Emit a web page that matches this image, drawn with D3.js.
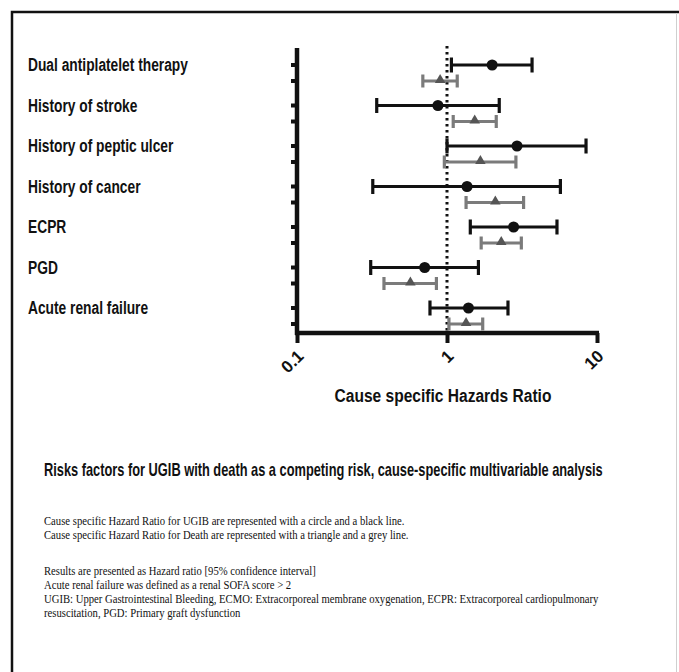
<!DOCTYPE html>
<html>
<head>
<meta charset="utf-8">
<script src="https://cdn.jsdelivr.net/npm/d3@7/dist/d3.min.js"></script>
<style>
  html, body { margin: 0; padding: 0; background: #fff; }
  svg { display: block; }
  .sans { font-family: "Liberation Sans", Arial, Helvetica, sans-serif; font-weight: bold; fill: #111; }
  .serif { font-family: "Liberation Serif", "Times New Roman", serif; fill: #111; }
</style>
</head>
<body>
<svg id="chart" width="679" height="672"></svg>
<script>
// ---------- data ----------
const categories = [
  "Dual antiplatelet therapy",
  "History of stroke",
  "History of peptic ulcer",
  "History of cancer",
  "ECPR",
  "PGD",
  "Acute renal failure"
];
// UGIB (circle, black line)
const ugibHR   = [2.00, 0.87, 2.93, 1.36, 2.78, 0.71, 1.39];
const ugibLow  = [1.07, 0.34, 1.00, 0.32, 1.43, 0.31, 0.77];
const ugibHigh = [3.69, 2.23, 8.45, 5.70, 5.41, 1.62, 2.55];
// Death (triangle, grey line)
const deathHR   = [0.90, 1.53, 1.67, 2.10, 2.30, 0.57, 1.34];
const deathLow  = [0.69, 1.10, 0.96, 1.34, 1.69, 0.38, 1.03];
const deathHigh = [1.17, 2.13, 2.88, 3.24, 3.13, 0.85, 1.73];
const xTickValues = [0.1, 1, 10];
const xTickLabels = ["0.1", "1", "10"];
const axisTitle = "Cause specific Hazards Ratio";
const chartTitle = "Risks factors for UGIB with death as a competing risk, cause-specific multivariable analysis";
const notesBlock1 = [
  "Cause specific Hazard Ratio for UGIB are represented with a circle and a black line.",
  "Cause specific Hazard Ratio for Death are represented with a triangle and a grey line."
];
const notesBlock2 = [
  "Results are presented as Hazard ratio [95% confidence interval]",
  "Acute renal failure was defined as a renal SOFA score > 2",
  "UGIB: Upper Gastrointestinal Bleeding, ECMO: Extracorporeal membrane oxygenation, ECPR: Extracorporeal cardiopulmonary",
  "resuscitation, PGD: Primary graft dysfunction"
];

// ---------- layout ----------
const svg = d3.select("#chart");
const x = d3.scaleLog().domain([0.1, 10]).range([297, 597]);
const y = d3.scalePoint().domain(categories).range([65, 308]);
const triOffset = 16;
const axisY = 333;
const axisTop = 48;
const black = "#111";
const grey = "#7b7b7b";

// frame
svg.append("path")
  .attr("d", "M12,672 V12 H679")
  .attr("fill", "none").attr("stroke", "#111").attr("stroke-width", 2.5);
svg.append("line")
  .attr("x1", 676.5).attr("x2", 676.5).attr("y1", 13).attr("y2", 672)
  .attr("stroke", "#cfcfcf").attr("stroke-width", 1);

// dotted reference line at HR = 1
svg.append("line")
  .attr("x1", x(1)).attr("x2", x(1)).attr("y1", 46).attr("y2", axisY)
  .attr("stroke", black).attr("stroke-width", 3)
  .attr("stroke-dasharray", "2.5,3.5");

// y axis line + ticks
svg.append("line")
  .attr("x1", x(0.1)).attr("x2", x(0.1)).attr("y1", axisTop).attr("y2", axisY + 2)
  .attr("stroke", black).attr("stroke-width", 4.5);
const tickRows = [];
categories.forEach(c => { tickRows.push(y(c)); tickRows.push(y(c) + triOffset); });
svg.append("g").selectAll("line").data(tickRows).join("line")
  .attr("x1", x(0.1) - 6).attr("x2", x(0.1))
  .attr("y1", d => d).attr("y2", d => d)
  .attr("stroke", black).attr("stroke-width", 4);

// x axis
const xAxis = d3.axisBottom(x).tickValues(xTickValues).tickSize(10)
  .tickFormat((d, i) => xTickLabels[i]).tickSizeOuter(0);
const gx = svg.append("g").attr("transform", `translate(0,${axisY})`).call(xAxis);
gx.select(".domain").attr("stroke", black).attr("stroke-width", 4.5)
  .attr("d", `M${x(0.1) - 2},0H${x(10) + 2}`);
gx.selectAll(".tick line").attr("stroke", black).attr("stroke-width", 4);
gx.selectAll(".tick text")
  .attr("class", "sans")
  .style("font-size", "17px")
  .attr("text-anchor", "end")
  .attr("y", 0).attr("dy", "0.35em")
  .attr("transform", "translate(3,20) rotate(-45)");

// helper: condense a text horizontally to a target width
function fitText(sel, x0, y0, target, anchor) {
  sel.attr("x", 0).attr("y", 0).attr("text-anchor", anchor || "start");
  const w = sel.node().getComputedTextLength();
  const s = target / w;
  sel.attr("transform", `translate(${x0},${y0}) scale(${s},1)`);
}

// axis title
fitText(svg.append("text").attr("class", "sans").style("font-size", "18.5px").text(axisTitle),
  443, 402, 217, "middle");

// category labels
svg.append("g").selectAll("text").data(categories).join("text")
  .attr("class", "sans")
  .style("font-size", "18.5px")
  .attr("dy", "0.35em")
  .attr("transform", d => `translate(28,${y(d)}) scale(0.745,1)`)
  .text(d => d);

// error bars
function drawSeries(hr, lo, hi, offset, color, lw, capH) {
  const g = svg.append("g");
  const rows = categories.map((c, i) => ({ c, hr: hr[i], lo: lo[i], hi: hi[i] }));
  g.selectAll("line.ci").data(rows).join("line").attr("class", "ci")
    .attr("x1", d => x(d.lo)).attr("x2", d => x(d.hi))
    .attr("y1", d => y(d.c) + offset).attr("y2", d => y(d.c) + offset)
    .attr("stroke", color).attr("stroke-width", lw);
  g.selectAll("line.capL").data(rows).join("line").attr("class", "capL")
    .attr("x1", d => x(d.lo)).attr("x2", d => x(d.lo))
    .attr("y1", d => y(d.c) + offset - capH).attr("y2", d => y(d.c) + offset + capH)
    .attr("stroke", color).attr("stroke-width", lw);
  g.selectAll("line.capR").data(rows).join("line").attr("class", "capR")
    .attr("x1", d => x(d.hi)).attr("x2", d => x(d.hi))
    .attr("y1", d => y(d.c) + offset - capH).attr("y2", d => y(d.c) + offset + capH)
    .attr("stroke", color).attr("stroke-width", lw);
  return { g, rows };
}
const s1 = drawSeries(ugibHR, ugibLow, ugibHigh, 0, black, 3.2, 7.5);
s1.g.selectAll("circle").data(s1.rows).join("circle")
  .attr("cx", d => x(d.hr)).attr("cy", d => y(d.c))
  .attr("r", 5.5).attr("fill", black);
const s2 = drawSeries(deathHR, deathLow, deathHigh, triOffset, grey, 3.2, 6.5);
s2.g.selectAll("path.tri").data(s2.rows).join("path").attr("class", "tri")
  .attr("d", d3.symbol(d3.symbolTriangle).size(48))
  .attr("transform", d => `translate(${x(d.hr)},${y(d.c) + triOffset - 1})`)
  .attr("fill", "#555");

// chart title
fitText(svg.append("text").attr("class", "sans").style("font-size", "17.5px").text(chartTitle),
  44, 476, 559, "start");

// notes
const notesScale = 0.89;
function drawNotes(lines, y0) {
  svg.append("g").selectAll("text").data(lines).join("text")
    .attr("class", "serif")
    .style("font-size", "12px")
    .attr("transform", (d, i) => `translate(44,${y0 + i * 14}) scale(${notesScale},1)`)
    .text(d => d);
}
drawNotes(notesBlock1, 525);
drawNotes(notesBlock2, 575);
</script>
</body>
</html>
